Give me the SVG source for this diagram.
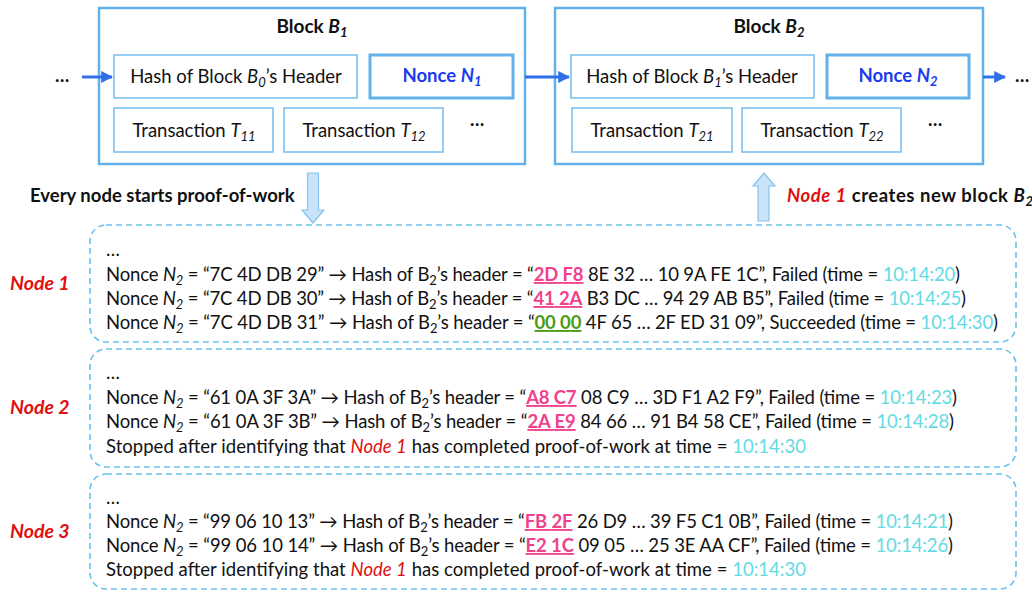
<svg xmlns="http://www.w3.org/2000/svg" width="1032" height="592" viewBox="0 0 1032 592">
  <style>
    text { font-family: Lato, "Liberation Sans", sans-serif; fill: #111; }
    .blk { fill: #fff; stroke: #62b1ea; stroke-width: 2.5; }
    .cell { fill: #fff; stroke: #7cc0ee; stroke-width: 1.6; }
    .nonce { fill: #fff; stroke: #62b1ea; stroke-width: 3; }
    .title { font-size: 19px; font-weight: bold; text-anchor: middle; }
    .ct { font-size: 18.5px; text-anchor: middle; }
    .nt { font-size: 18.5px; font-weight: bold; fill: #1a3cf0; text-anchor: middle; }
    .bold { font-size: 18.5px; font-weight: bold; }
    .node { font-size: 19.5px; font-weight: bold; font-style: italic; fill: #e01010; }
    .ln { font-size: 18.5px; }
    .sub { font-size: 13px; }
    .pk { fill: #f0428c; font-weight: bold; text-decoration: underline; }
    .gr { fill: #4a9a14; font-weight: bold; text-decoration: underline; }
    .cy { fill: #62dbe4; }
    .red { fill: #e01010; font-style: italic; }
    .dash { fill: none; stroke: #6cc0ee; stroke-width: 1.6; stroke-dasharray: 6 4; }
    .flow { stroke: #2f6fe8; stroke-width: 3; fill: none; }
    .barrow { fill: #c9e4f8; stroke: #86c3ef; stroke-width: 1.2; }
  </style>
  <defs>
    <marker id="ah" viewBox="0 0 10 10" refX="9" refY="5" markerWidth="4" markerHeight="4" orient="auto" markerUnits="strokeWidth">
      <path d="M0,0 L10,5 L0,10 z" fill="#2f6fe8"/>
    </marker>
  </defs>

  <!-- Block B1 -->
  <g id="block-b1">
    <rect class="blk" x="99" y="8" width="426" height="156"/>
    <text class="title" x="312" y="33">Block <tspan font-style="italic">B</tspan><tspan class="sub" font-style="italic" dy="4">1</tspan></text>
    <rect class="cell" x="114" y="55" width="243" height="43"/>
    <text class="ct" x="236" y="83">Hash of Block <tspan font-style="italic">B</tspan><tspan class="sub" font-style="italic" dy="4">0</tspan><tspan dy="-4">’s Header</tspan></text>
    <rect class="nonce" x="370" y="55" width="143" height="43"/>
    <text class="nt" x="442" y="82">Nonce <tspan font-style="italic">N</tspan><tspan class="sub" font-style="italic" dy="4">1</tspan></text>
    <rect class="cell" x="114" y="108" width="159" height="44"/>
    <text class="ct" x="194" y="137">Transaction <tspan font-style="italic">T</tspan><tspan class="sub" font-style="italic" dy="4">11</tspan></text>
    <rect class="cell" x="284" y="108" width="159" height="44"/>
    <text class="ct" x="364" y="137">Transaction <tspan font-style="italic">T</tspan><tspan class="sub" font-style="italic" dy="4">12</tspan></text>
    <text class="ln" x="470" y="126" font-weight="bold">…</text>
  </g>

  <!-- Block B2 -->
  <g id="block-b2">
    <rect class="blk" x="555" y="8" width="428" height="156"/>
    <text class="title" x="769" y="33">Block <tspan font-style="italic">B</tspan><tspan class="sub" font-style="italic" dy="4">2</tspan></text>
    <rect class="cell" x="571" y="55" width="243" height="43"/>
    <text class="ct" x="692" y="83">Hash of Block <tspan font-style="italic">B</tspan><tspan class="sub" font-style="italic" dy="4">1</tspan><tspan dy="-4">’s Header</tspan></text>
    <rect class="nonce" x="827" y="55" width="142" height="43"/>
    <text class="nt" x="898" y="82">Nonce <tspan font-style="italic">N</tspan><tspan class="sub" font-style="italic" dy="4">2</tspan></text>
    <rect class="cell" x="572" y="108" width="160" height="44"/>
    <text class="ct" x="652" y="137">Transaction <tspan font-style="italic">T</tspan><tspan class="sub" font-style="italic" dy="4">21</tspan></text>
    <rect class="cell" x="742" y="108" width="159" height="44"/>
    <text class="ct" x="822" y="137">Transaction <tspan font-style="italic">T</tspan><tspan class="sub" font-style="italic" dy="4">22</tspan></text>
    <text class="ln" x="928" y="126" font-weight="bold">…</text>
  </g>

  <!-- chain links and flow arrows -->
  <g id="connectors">
    <text class="ln" x="55" y="82" font-weight="bold">…</text>
    <line class="flow" x1="82" y1="77" x2="112" y2="77" marker-end="url(#ah)"/>
    <line class="flow" x1="525" y1="77" x2="569" y2="77" marker-end="url(#ah)"/>
    <line class="flow" x1="983" y1="77" x2="1005" y2="77" marker-end="url(#ah)"/>
    <text class="ln" x="1015" y="82" font-weight="bold">…</text>
    <polygon class="barrow" points="307.5,173 318.5,173 318.5,210 324,210 313,223 302,210 307.5,210"/>
    <polygon class="barrow" points="764,173 775,186 769,186 769,221 758,221 758,186 753,186"/>
  </g>

  <text class="bold" x="30" y="202">Every node starts proof-of-work</text>
  <text class="bold" x="787" y="202" textLength="246" lengthAdjust="spacing"><tspan class="red">Node 1</tspan> creates new block <tspan font-style="italic">B</tspan><tspan class="sub" font-style="italic" dy="4">2</tspan></text>

  <!-- Node 1 -->
  <g id="node-1">
    <rect class="dash" x="90" y="225" width="926" height="117" rx="16"/>
    <text class="node" x="10" y="290">Node 1</text>
    <text class="ln" x="106" y="256">…</text>
    <text class="ln" x="106" y="281" textLength="854" lengthAdjust="spacing">Nonce <tspan font-style="italic">N</tspan><tspan class="sub" font-style="italic" dy="4">2</tspan><tspan dy="-4"> = “7C 4D DB 29” → Hash of B</tspan><tspan class="sub" dy="4">2</tspan><tspan dy="-4">’s header = “</tspan><tspan class="pk">2D F8</tspan> 8E 32 … 10 9A FE 1C”, Failed (time = <tspan class="cy">10:14:20</tspan>)</text>
    <text class="ln" x="106" y="305" textLength="860" lengthAdjust="spacing">Nonce <tspan font-style="italic">N</tspan><tspan class="sub" font-style="italic" dy="4">2</tspan><tspan dy="-4"> = “7C 4D DB 30” → Hash of B</tspan><tspan class="sub" dy="4">2</tspan><tspan dy="-4">’s header = “</tspan><tspan class="pk">41 2A</tspan> B3 DC … 94 29 AB B5”, Failed (time = <tspan class="cy">10:14:25</tspan>)</text>
    <text class="ln" x="106" y="329" textLength="892" lengthAdjust="spacing">Nonce <tspan font-style="italic">N</tspan><tspan class="sub" font-style="italic" dy="4">2</tspan><tspan dy="-4"> = “7C 4D DB 31” → Hash of B</tspan><tspan class="sub" dy="4">2</tspan><tspan dy="-4">’s header = “</tspan><tspan class="gr">00 00</tspan> 4F 65 … 2F ED 31 09”, Succeeded (time = <tspan class="cy">10:14:30</tspan>)</text>
  </g>

  <!-- Node 2 -->
  <g id="node-2">
    <rect class="dash" x="90" y="349" width="926" height="118" rx="16"/>
    <text class="node" x="10" y="414">Node 2</text>
    <text class="ln" x="106" y="379">…</text>
    <text class="ln" x="106" y="404" textLength="851" lengthAdjust="spacing">Nonce <tspan font-style="italic">N</tspan><tspan class="sub" font-style="italic" dy="4">2</tspan><tspan dy="-4"> = “61 0A 3F 3A” → Hash of B</tspan><tspan class="sub" dy="4">2</tspan><tspan dy="-4">’s header = “</tspan><tspan class="pk">A8 C7</tspan> 08 C9 … 3D F1 A2 F9”, Failed (time = <tspan class="cy">10:14:23</tspan>)</text>
    <text class="ln" x="106" y="428" textLength="848" lengthAdjust="spacing">Nonce <tspan font-style="italic">N</tspan><tspan class="sub" font-style="italic" dy="4">2</tspan><tspan dy="-4"> = “61 0A 3F 3B” → Hash of B</tspan><tspan class="sub" dy="4">2</tspan><tspan dy="-4">’s header = “</tspan><tspan class="pk">2A E9</tspan> 84 66 … 91 B4 58 CE”, Failed (time = <tspan class="cy">10:14:28</tspan>)</text>
    <text class="ln" x="106" y="453" textLength="700" lengthAdjust="spacing">Stopped after identifying that <tspan class="red">Node 1</tspan> has completed proof-of-work at time = <tspan class="cy">10:14:30</tspan></text>
  </g>

  <!-- Node 3 -->
  <g id="node-3">
    <rect class="dash" x="90" y="474" width="926" height="115" rx="16"/>
    <text class="node" x="10" y="538">Node 3</text>
    <text class="ln" x="106" y="504">…</text>
    <text class="ln" x="106" y="528" textLength="847" lengthAdjust="spacing">Nonce <tspan font-style="italic">N</tspan><tspan class="sub" font-style="italic" dy="4">2</tspan><tspan dy="-4"> = “99 06 10 13” → Hash of B</tspan><tspan class="sub" dy="4">2</tspan><tspan dy="-4">’s header = “</tspan><tspan class="pk">FB 2F</tspan> 26 D9 … 39 F5 C1 0B”, Failed (time = <tspan class="cy">10:14:21</tspan>)</text>
    <text class="ln" x="106" y="552" textLength="847" lengthAdjust="spacing">Nonce <tspan font-style="italic">N</tspan><tspan class="sub" font-style="italic" dy="4">2</tspan><tspan dy="-4"> = “99 06 10 14” → Hash of B</tspan><tspan class="sub" dy="4">2</tspan><tspan dy="-4">’s header = “</tspan><tspan class="pk">E2 1C</tspan> 09 05 … 25 3E AA CF”, Failed (time = <tspan class="cy">10:14:26</tspan>)</text>
    <text class="ln" x="106" y="576" textLength="700" lengthAdjust="spacing">Stopped after identifying that <tspan class="red">Node 1</tspan> has completed proof-of-work at time = <tspan class="cy">10:14:30</tspan></text>
  </g>
</svg>
